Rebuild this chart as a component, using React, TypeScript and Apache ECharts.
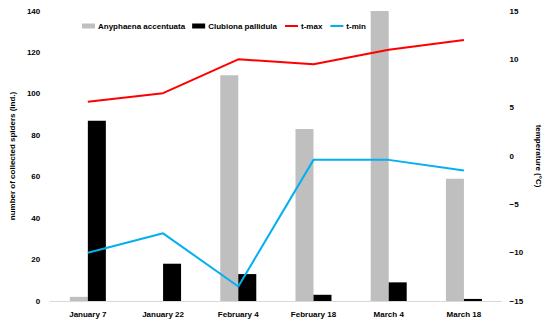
import React, { useEffect, useRef } from "react";
import * as echarts from "echarts";

const categories = ["January 7", "January 22", "February 4", "February 18", "March 4", "March 18"];
const anyphaena = [2, 0, 109, 83, 140, 59];
const clubiona = [87, 18, 13, 3, 9, 1];
const tMax = [5.6, 6.5, 10, 9.5, 11, 12];
const tMin = [-10, -8, -13.5, -0.4, -0.4, -1.5];

export default function App() {
  const ref = useRef<HTMLDivElement>(null);
  useEffect(() => {
    const chart = echarts.init(ref.current!, null, { renderer: "svg" });
    const font = "Liberation Sans, Arial, sans-serif";
    const lbl = { fontSize: 8, fontWeight: "bold", color: "#000", fontFamily: font };
    chart.setOption({
      animation: false,
      textStyle: { fontFamily: font },
      legend: {
        left: 77,
        top: 17,
        itemGap: 7,
        itemWidth: 13,
        itemHeight: 5,
        textStyle: { fontSize: 8, fontWeight: "bold", color: "#000", fontFamily: font, padding: [0, 0, 0, -2] },
        data: [
          { name: "Anyphaena accentuata", icon: "rect" },
          { name: "Clubiona pallidula", icon: "rect" },
          { name: "t-max", itemStyle: { opacity: 0 } },
          { name: "t-min", itemStyle: { opacity: 0 } },
        ],
      },
      grid: { left: 47, right: 38, top: 11, bottom: 25 },
      xAxis: {
        type: "category",
        data: categories,
        axisLine: { lineStyle: { color: "#d9d9d9" } },
        axisTick: { show: false },
        axisLabel: { ...lbl, margin: 9 },
      },
      yAxis: [
        {
          type: "value",
          min: 0,
          max: 140,
          interval: 20,
          name: "number of collected spiders (ind.)",
          nameLocation: "middle",
          nameGap: 33,
          nameTextStyle: lbl,
          splitLine: { show: false },
          axisLine: { show: false },
          axisTick: { show: false },
          axisLabel: { ...lbl, margin: 10 },
        },
        {
          type: "value",
          min: -15,
          max: 15,
          interval: 5,
          name: "temperature (°C)",
          nameLocation: "middle",
          nameGap: 26,
          nameRotate: -90,
          nameTextStyle: lbl,
          splitLine: { show: false },
          axisLine: { show: false },
          axisTick: { show: false },
          axisLabel: {
            ...lbl,
            margin: 8,
            formatter: (v: number) => String(v).replace("-", "\u2212"),
          },
        },
      ],
      series: [
        {
          name: "Anyphaena accentuata",
          type: "bar",
          data: anyphaena,
          barWidth: 18,
          barGap: "0%",
          itemStyle: { color: "#bfbfbf" },
        },
        {
          name: "Clubiona pallidula",
          type: "bar",
          data: clubiona,
          barWidth: 18,
          itemStyle: { color: "#000000" },
        },
        {
          name: "t-max",
          type: "line",
          yAxisIndex: 1,
          data: tMax,
          symbol: "none",
          lineStyle: { color: "#ff0000", width: 2 },
          itemStyle: { color: "#ff0000" },
        },
        {
          name: "t-min",
          type: "line",
          yAxisIndex: 1,
          data: tMin,
          symbol: "none",
          lineStyle: { color: "#00b0f0", width: 2 },
          itemStyle: { color: "#00b0f0" },
        },
      ],
    });
    return () => chart.dispose();
  }, []);
  return <div ref={ref} style={{ width: 550, height: 326, position: "absolute", left: 0, top: 0 }} />;
}
